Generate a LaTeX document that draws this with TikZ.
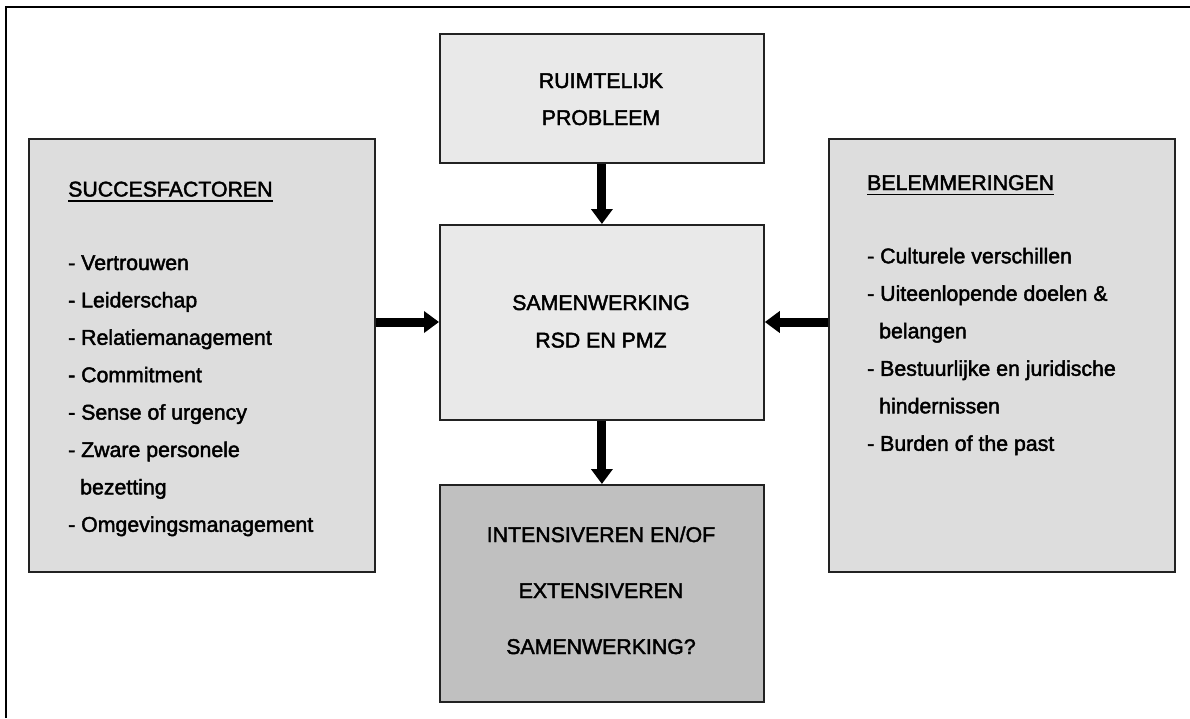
\documentclass[tikz,border=0pt]{standalone}
\usepackage{fontspec}
\setmainfont{Liberation Sans}
\newfontfamily\heavyfont{Liberation Sans}[FakeBold=2]
\usetikzlibrary{arrows.meta}
\definecolor{boxline}{HTML}{222222}
\definecolor{fillcore}{HTML}{E9E9E9}
\definecolor{fillside}{HTML}{DDDDDD}
\definecolor{filldark}{HTML}{C0C0C0}
\tikzset{
  panel/.style={draw=boxline, line width=1.8pt, inner sep=0pt},
  txt/.style={inner sep=0pt, anchor=base west, font=\heavyfont\fontsize{21.3}{25}\selectfont},
  ctxt/.style={inner sep=0pt, anchor=base, font=\heavyfont\fontsize{21.3}{25}\selectfont},
  bigarrow/.style={line width=9pt, -{Triangle[width=21pt,length=15pt]}},
  headline/.style={line width=1.9pt}
}
\begin{document}
\begin{tikzpicture}[x=1pt, y=-1pt]
\useasboundingbox (0,0) rectangle (1190,718);
\fill[white] (0,0) rectangle (1190,718);

% frame: top and left edges only
\draw[line width=2.4pt, black] (6,718) -- (6,7) -- (1190,7);

% boxes
\node[panel, fill=fillside, minimum width=346pt, minimum height=433pt, anchor=north west] (succ) at (28,138) {};
\node[panel, fill=fillside, minimum width=346pt, minimum height=433pt, anchor=north west] (bel) at (828,138) {};
\node[panel, fill=fillcore, minimum width=324pt, minimum height=129pt, anchor=north west] (prob) at (439,33) {};
\node[panel, fill=fillcore, minimum width=324pt, minimum height=195pt, anchor=north west] (samen) at (439,224) {};
\node[panel, fill=filldark, minimum width=324pt, minimum height=217pt, anchor=north west] (result) at (439,484) {};

% arrows between the boxes
\draw[bigarrow] (prob.south) -- (samen.north);
\draw[bigarrow] (samen.south) -- (result.north);
\coordinate (samenL) at (samen.west |- 0,322);
\coordinate (samenR) at (samen.east |- 0,322);
\draw[bigarrow] (succ.east |- samenL) -- (samenL);
\draw[bigarrow] (bel.west |- samenR) -- (samenR);

% centre texts
\node[ctxt] (p1) at (601,88) {RUIMTELIJK};
\node[ctxt] (p2) at (601,125) {PROBLEEM};
\node[ctxt] (s1) at (601,310) {SAMENWERKING};
\node[ctxt] (s2) at (601,347.5) {RSD EN PMZ};
\node[ctxt] (r1) at (601,542) {INTENSIVEREN EN/OF};
\node[ctxt] (r2) at (601,598) {EXTENSIVEREN};
\node[ctxt] (r3) at (601,654) {SAMENWERKING?};

% success factors
\node[txt] (sh) at (68,196.5) {SUCCESFACTOREN};
\draw[headline] ([yshift=-4.5pt]sh.base west) -- ([yshift=-4.5pt]sh.base east);
\node[txt] (sa) at (68,270) {- Vertrouwen};
\node[txt] (sb) at (68,307.4) {- Leiderschap};
\node[txt] (sc) at (68,344.8) {- Relatiemanagement};
\node[txt] (sd) at (68,382.2) {- Commitment};
\node[txt] (se) at (68,419.6) {- Sense of urgency};
\node[txt] (sf) at (68,457) {- Zware personele};
\node[txt] (sg) at (80,494.4) {bezetting};
\node[txt] (sh2) at (68,531.8) {- Omgevingsmanagement};

% obstacles
\node[txt] (bh) at (867,190) {BELEMMERINGEN};
\draw[headline] ([yshift=-4.5pt]bh.base west) -- ([yshift=-4.5pt]bh.base east);
\node[txt] (ba) at (867,263.3) {- Culturele verschillen};
\node[txt] (bb) at (867,300.8) {- Uiteenlopende doelen \&};
\node[txt] (bc) at (879,338.3) {belangen};
\node[txt] (bd) at (867,375.8) {- Bestuurlijke en juridische};
\node[txt] (be) at (879,413.3) {hindernissen};
\node[txt] (bf) at (867,450.8) {- Burden of the past};
\end{tikzpicture}
\end{document}
